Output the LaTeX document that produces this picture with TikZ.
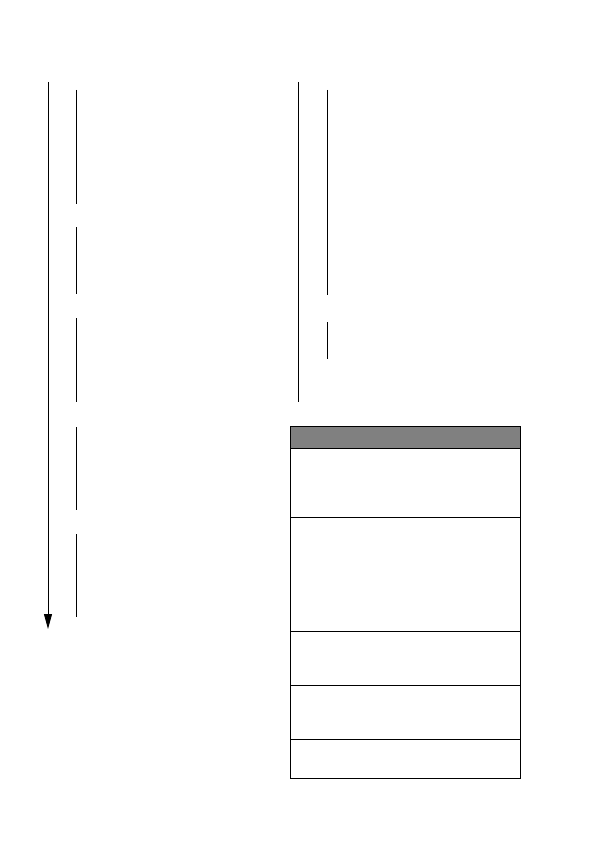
\documentclass[tikz,border=0pt]{standalone}
\usepackage{tikz}
\usetikzlibrary{arrows.meta}

\begin{document}
\begin{tikzpicture}[x=1pt,y=-1pt,line width=0.9pt]
    \useasboundingbox (0,0) rectangle (596,842);
    % left time axis
    \coordinate (la) at (48,82);
    \coordinate (lb) at (48,629);
    \draw[-{Triangle[width=8pt,length=15pt]}] (la) -- (lb);
    \foreach \t/\b in {90/204,227/294,318/402,427/510,534/617}
        \draw (76,\t) -- (76,\b);
    % right axis
    \coordinate (ra) at (298,82);
    \coordinate (rb) at (298,402);
    \draw (ra) -- (rb);
    \foreach \t/\b in {90/295,322/359}
        \draw (327,\t) -- (327,\b);
    % table
    \draw[fill=gray] (290,426) rectangle (520,448);
    \draw (290,448) rectangle (520,778);
    \foreach \y in {517,631,685,739}
        \draw (290,\y) -- (520,\y);
\end{tikzpicture}
\end{document}
